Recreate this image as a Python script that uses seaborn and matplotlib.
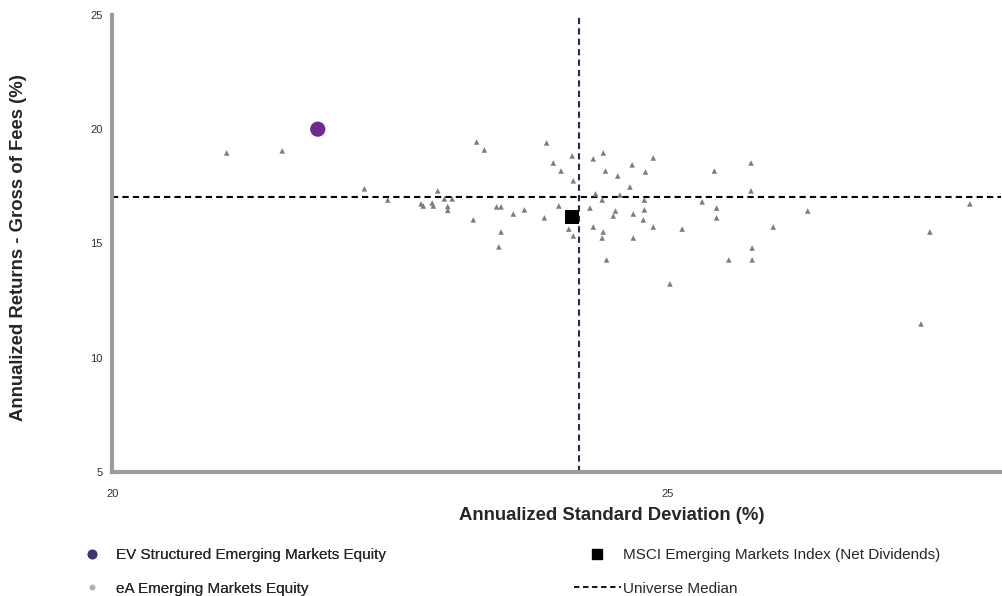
import matplotlib.pyplot as plt
import seaborn as sns
from matplotlib.lines import Line2D

sns.set_style('white')
plt.rcParams['font.family'] = ['Liberation Sans', 'DejaVu Sans']

# eA Emerging Markets Equity universe (std dev %, return %)
peer_sd = [21.03, 21.53, 22.27, 22.48, 22.78, 22.80, 22.88, 22.89, 22.93, 22.99,
           23.06, 23.02, 23.02, 23.28, 23.35, 23.25, 23.46, 23.50, 23.50, 23.48,
           23.61, 23.71, 23.91, 23.97, 24.04, 23.89, 24.02, 24.14, 24.15, 24.11,
           24.15, 24.33, 24.42, 24.44, 24.55, 24.68, 24.80, 24.87, 24.66, 24.35,
           24.41, 24.57, 24.79, 24.30, 24.53, 24.51, 24.69, 24.79, 24.78, 24.33,
           24.42, 24.41, 24.69, 24.87, 24.45, 25.02, 25.13, 25.31, 25.42, 25.44,
           25.44, 25.55, 25.75, 25.75, 25.76, 25.76, 25.95, 26.26, 27.28, 27.36,
           27.72]
peer_ret = [18.96, 19.05, 17.39, 16.90, 16.73, 16.64, 16.77, 16.64, 17.30, 16.95,
            16.95, 16.62, 16.45, 19.44, 19.09, 16.03, 16.60, 16.60, 15.50, 14.85,
            16.29, 16.47, 19.40, 18.52, 18.17, 16.12, 16.64, 18.83, 17.74, 15.63,
            15.33, 18.70, 18.96, 18.17, 17.95, 18.44, 18.13, 18.74, 17.47, 17.17,
            16.90, 17.12, 16.90, 16.55, 16.42, 16.20, 16.29, 16.47, 16.03, 15.72,
            15.50, 15.24, 15.24, 15.72, 14.28, 13.23, 15.63, 16.82, 18.17, 16.55,
            16.12, 14.28, 18.52, 17.30, 14.80, 14.28, 15.72, 16.42, 11.48, 15.50,
            16.73]

ev_sd, ev_ret = [21.85], [20.0]
msci_sd, msci_ret = [24.14], [16.16]
median_sd, median_ret = 24.2, 17.03

x_ticks = [20, 25]
y_ticks = [5, 10, 15, 20, 25]

fig, ax = plt.subplots(figsize=(10.02, 5.96), dpi=100)
fig.subplots_adjust(left=0.112, right=0.999, top=0.975, bottom=0.208)

ax.axvline(median_sd, color='#1f2b5e', ls=(0, (3, 2)), lw=1.5, zorder=2)
ax.axhline(median_ret, color='black', ls=(0, (3, 2)), lw=1.5, zorder=2)

sns.scatterplot(x=peer_sd, y=peer_ret, marker='^', s=16, color='#7d7d7d',
                edgecolor='none', ax=ax, zorder=3)
sns.scatterplot(x=ev_sd, y=ev_ret, marker='o', s=120, color='#6a2c91',
                edgecolor='none', ax=ax, zorder=4)
sns.scatterplot(x=msci_sd, y=msci_ret, marker='s', s=110, color='black',
                edgecolor='none', ax=ax, zorder=4)

ax.set_xlim(20, 28)
ax.set_ylim(5, 25)
ax.set_xticks(x_ticks)
ax.set_yticks(y_ticks)
ax.tick_params(axis='both', labelsize=8, length=0, colors='#333333')
ax.tick_params(axis='x', pad=12)
ax.tick_params(axis='y', pad=7)

sns.despine(ax=ax)
for side in ['left', 'bottom']:
    ax.spines[side].set_color('#9c9c9c')
    ax.spines[side].set_linewidth(3)

ax.set_xlabel('Annualized Standard Deviation (%)', fontsize=13.3, fontweight='bold')
ax.set_ylabel('Annualized Returns - Gross of Fees (%)', fontsize=13.3, fontweight='bold')
ax.xaxis.set_label_coords(0.562, -0.077)
ax.yaxis.set_label_coords(-0.096, 0.49)

left_handles = [
    Line2D([], [], ls='none', marker='o', ms=6, color='#3d3570'),
    Line2D([], [], ls='none', marker='o', ms=3, color='#b0b0b0'),
]
right_handles = [
    Line2D([], [], ls='none', marker='s', ms=7, color='black'),
    Line2D([], [], ls=(0, (3, 2)), lw=1.3, color='black'),
]
leg1 = fig.legend(left_handles,
                  ['EV Structured Emerging Markets Equity', 'eA Emerging Markets Equity'],
                  loc='upper left', bbox_to_anchor=(0.072, 0.093), frameon=False,
                  fontsize=11, handlelength=1.6, handletextpad=0.8,
                  labelspacing=1.27, borderpad=0)
fig.add_artist(leg1)
fig.legend(right_handles,
           ['MSCI Emerging Markets Index (Net Dividends)', 'Universe Median'],
           loc='upper left', bbox_to_anchor=(0.565, 0.093), frameon=False,
           fontsize=11, handlelength=3.1, handletextpad=0.15,
           labelspacing=1.27, borderpad=0)

fig.savefig('out.png', dpi=100)
